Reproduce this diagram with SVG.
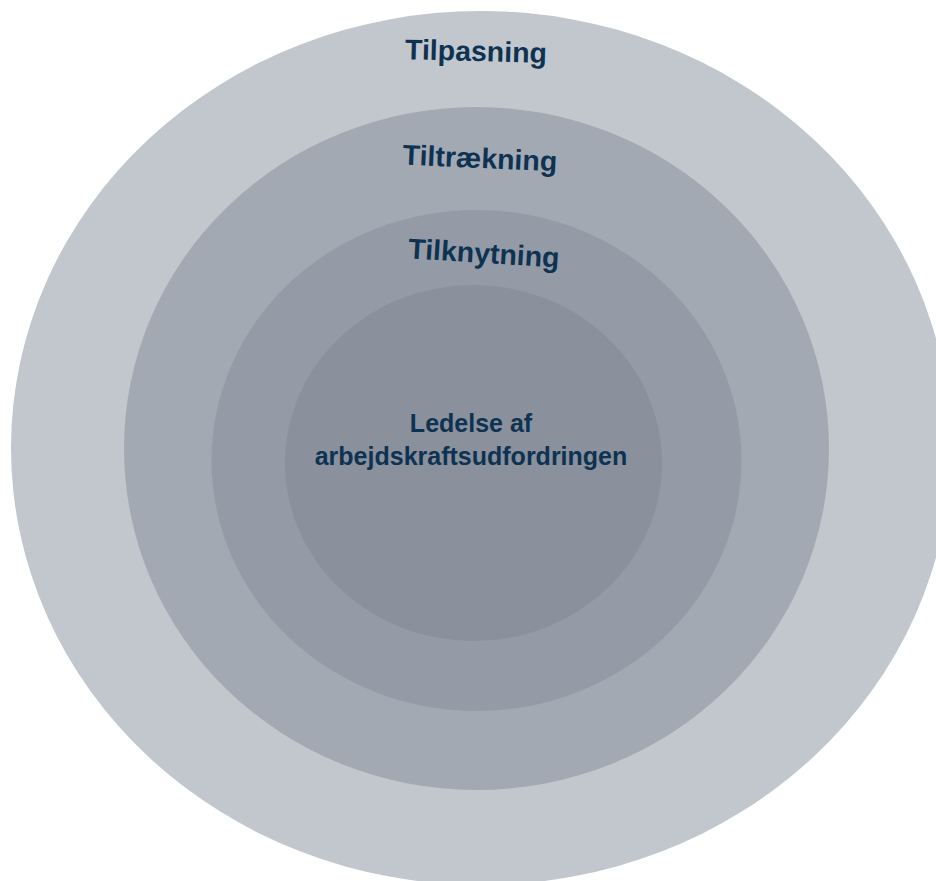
<svg xmlns="http://www.w3.org/2000/svg" width="936" height="881" viewBox="0 0 936 881">
  <style>
    .lbl { font-family: "Liberation Sans", Arial, sans-serif; font-weight: bold; fill: #0E3352; text-anchor: middle; }
    .ring { font-size: 28.5px; }
    .core { font-size: 25px; }
  </style>
  <rect width="936" height="881" fill="#FFFFFF"/>
  <g id="tilpasning">
    <ellipse cx="481" cy="448" rx="470" ry="437" fill="#C2C6CD"/>
    <text class="lbl ring" x="476" y="61" transform="rotate(1.5 476 52)">Tilpasning</text>
  </g>
  <g id="tiltraekning">
    <ellipse cx="476.5" cy="448.5" rx="352.5" ry="341.5" fill="#A3A9B2"/>
    <text class="lbl ring" x="480" y="168" transform="rotate(2.5 480 158)">Tiltrækning</text>
  </g>
  <g id="tilknytning">
    <ellipse cx="476.5" cy="460.5" rx="265" ry="250.5" fill="#959BA6"/>
    <text class="lbl ring" x="484" y="263" transform="rotate(3.5 484 253)">Tilknytning</text>
  </g>
  <g id="ledelse">
    <ellipse cx="473.5" cy="463" rx="188.5" ry="178" fill="#8A909C"/>
    <text class="lbl core" x="471" y="432">Ledelse af</text>
    <text class="lbl core" x="471" y="465">arbejdskraftsudfordringen</text>
  </g>
  <g id="connectors"></g>
</svg>
